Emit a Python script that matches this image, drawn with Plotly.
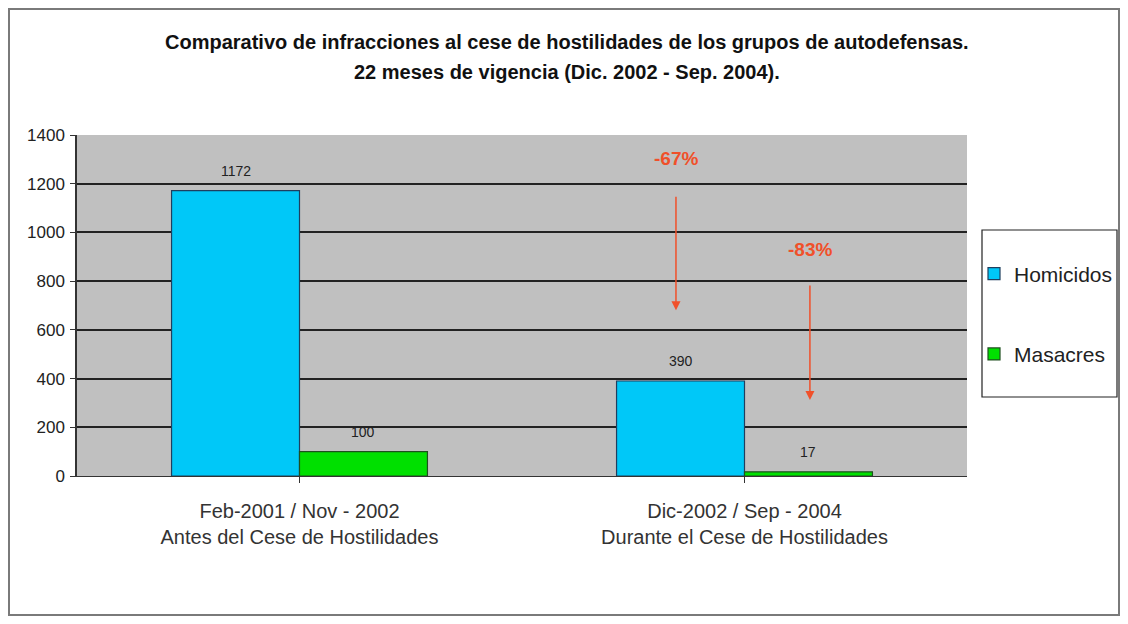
import plotly.graph_objects as go

categories = ["Feb-2001 / Nov - 2002<br>Antes del Cese de Hostilidades",
              "Dic-2002 / Sep - 2004<br>Durante el Cese de Hostilidades"]
homicidios = [1172, 390]
masacres = [100, 17]
series_names = ["Homicidos", "Masacres"]
reductions = ["-67%", "-83%"]
title_lines = ["Comparativo de infracciones al cese de hostilidades de los grupos de autodefensas.",
               "22 meses de vigencia (Dic. 2002 - Sep. 2004)."]
y_ticks = [0, 200, 400, 600, 800, 1000, 1200, 1400]

FONT = "Liberation Sans, Arial, sans-serif"
BARGAP = 0.425

# page has an 8px body margin; figure is drawn from (8, 8) and must fit without scrollbars
OFF = 8
FW, FH = 1112, 608
L, R, T, B = 77 - OFF, FW - (967 - OFF), 135 - OFF, FH - (476 - OFF)
PW, PH = FW - L - R, FH - T - B

def px_to_paper_x(px):
    return (px - OFF - L) / PW

def px_to_paper_y(py):
    return (FH - B - (py - OFF)) / PH

fig = go.Figure()
fig.add_trace(go.Bar(x=[0, 1], y=homicidios, name=series_names[0], legendgroup="a",
                     marker=dict(color="#00C8F8", line=dict(color="#1F3F5F", width=1.2))))
fig.add_trace(go.Bar(x=[0, 1], y=masacres, name=series_names[1], legendgroup="b",
                     marker=dict(color="#00E000", line=dict(color="#1F4F1F", width=1.2))))

bar_w = (1 - BARGAP) / 2
annotations = []
for i in range(2):
    for vals, off in ((homicidios, -bar_w / 2), (masacres, bar_w / 2)):
        annotations.append(dict(x=i + off, y=vals[i], xref="x", yref="y", text=str(vals[i]),
                                showarrow=False, yshift=20, font=dict(size=14, color="#222", family=FONT)))

# reduction arrows (second category)
red = "#F0502A"
arrow_specs = [(reductions[0], 1 - 0.154, 1305, 1153, 681),
               (reductions[1], 1 + 0.147, 928, 788, 312)]
for txt, xx, ytxt, ytail, yhead in arrow_specs:
    annotations.append(dict(x=xx, y=ytxt, xref="x", yref="y", text="<b>" + txt + "</b>", showarrow=False,
                            font=dict(size=19, color=red, family=FONT)))
    annotations.append(dict(x=xx, y=yhead, ax=xx, ay=ytail, xref="x", yref="y", axref="x", ayref="y",
                            text="", showarrow=True, arrowhead=2, arrowsize=1.2, arrowwidth=1.5,
                            arrowcolor=red))

for line, ypx in zip(title_lines, (42, 72)):
    annotations.append(dict(x=px_to_paper_x(567), y=px_to_paper_y(ypx), xref="paper", yref="paper",
                            text="<b>" + line + "</b>", showarrow=False,
                            font=dict(size=20, color="#111", family=FONT), xanchor="center", yanchor="middle"))

shapes = [
    dict(type="rect", xref="paper", yref="paper",
         x0=px_to_paper_x(9), x1=px_to_paper_x(1119), y0=px_to_paper_y(615), y1=px_to_paper_y(9),
         line=dict(color="#7A7A7A", width=2), fillcolor="rgba(0,0,0,0)", layer="below"),
    dict(type="rect", xref="paper", yref="paper",
         x0=px_to_paper_x(982), x1=px_to_paper_x(1117), y0=px_to_paper_y(397), y1=px_to_paper_y(230),
         line=dict(color="#222", width=1.2), fillcolor="white", layer="below"),
]

fig.update_layout(
    width=FW, height=FH,
    margin=dict(l=L, r=R, t=T, b=B, autoexpand=False),
    paper_bgcolor="white", plot_bgcolor="#C0C0C0",
    barmode="group", bargap=BARGAP, bargroupgap=0,
    font=dict(family=FONT, color="#222"),
    annotations=annotations, shapes=shapes,
    showlegend=True,
    legend=dict(x=px_to_paper_x(974), y=px_to_paper_y(314), xanchor="left", yanchor="middle",
                borderwidth=0, bgcolor="rgba(0,0,0,0)",
                font=dict(size=21, color="#222", family=FONT), tracegroupgap=50,
                itemwidth=30),
    xaxis=dict(tickmode="array", tickvals=[0, 1], ticktext=categories, range=[-0.5, 1.5],
               tickson="boundaries", ticks="outside", ticklen=6, tickcolor="#333",
               ticklabelstandoff=11, automargin=False,
               showline=True, linecolor="#333", linewidth=1, showgrid=False,
               tickfont=dict(size=20, color="#333", family=FONT)),
    yaxis=dict(range=[0, 1400], tickvals=y_ticks, ticks="outside", ticklen=5, tickcolor="#333",
               ticklabelstandoff=2, automargin=False,
               showline=True, linecolor="#333", linewidth=1.5, gridcolor="#222", gridwidth=1.5,
               tickfont=dict(size=17, color="#222", family=FONT), zeroline=False),
)
fig.write_html("out.html")
